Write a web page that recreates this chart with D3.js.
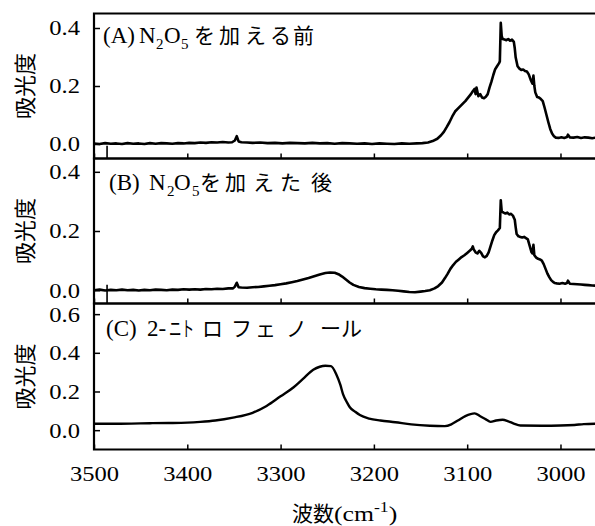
<!doctype html>
<html lang="ja">
<head>
  <meta charset="utf-8">
  <title>N2O5 spectra</title>
  <script src="https://cdnjs.cloudflare.com/ajax/libs/d3/7.8.5/d3.min.js"></script>
  <style>
    body { margin: 0; background: #fff; }
    .lat, .tick text { font-family: "Liberation Serif", "Times New Roman", serif; fill: #000; }
    .jp { font-family: "Noto Sans CJK JP", sans-serif; fill: #000; }
  </style>
</head>
<body>
<svg width="595" height="526" id="svg"></svg>

<script>

// --- data ---
var xDomain = [3500, 2963];
var xTicks = [3500, 3400, 3300, 3200, 3100, 3000];
var yTicksAB = [0.0, 0.2, 0.4];
var yTicksC = [0.0, 0.2, 0.4, 0.6];
var yDomainA = [-0.05, 0.45];
var yDomainB = [-0.045, 0.445];
var yDomainC = [-0.1, 0.655];

// (A) before N2O5
var wnA  = [3500,3494,3488,3482,3476,3470,3464,3458,3452,3446,3440,3434,3428,3422,3416,3410,3404,3398,3392,3386,3380,3374,3368,3362,3356,3352,3349,3347,3345,3342,3336,3330,3322,3314,3306,3298,3290,3282,3274,3266,3258,3250,3242,3234,3226,3218,3210,3202,3194,3186,3178,3170,3162,3154,3148,3142,3137,3132,3128,3125,3122,3119,3116,3113,3110,3106,3102,3099,3096,3094,3092,3091,3090,3088,3086,3084,3082,3080,3078,3076,3074,3072,3070,3068,3066,3065,3064,3063,3062,3060,3058,3056,3054,3052,3050,3049,3048,3046,3044,3042,3040,3038,3036,3034,3032,3030,3029,3028,3027,3025,3023,3021,3019,3017,3015,3013,3011,3009,3007,3005,3002,2999,2996,2993,2992,2990,2986,2982,2978,2974,2970,2966,2962];
var absA = [0.002,0.000,0.003,0.001,0.002,0.000,0.003,0.001,0.002,0.000,0.003,0.001,0.003,0.002,0.001,0.003,0.002,0.004,0.003,0.005,0.004,0.006,0.005,0.007,0.005,0.006,0.012,0.027,0.009,0.006,0.005,0.004,0.005,0.003,0.004,0.002,0.004,0.003,0.002,0.004,0.002,0.003,0.001,0.003,0.002,0.001,0.002,0.000,0.002,0.001,0.000,0.002,0.001,0.002,0.003,0.005,0.010,0.018,0.030,0.042,0.058,0.075,0.095,0.112,0.122,0.135,0.148,0.160,0.172,0.182,0.190,0.172,0.195,0.165,0.172,0.160,0.158,0.163,0.172,0.195,0.215,0.238,0.258,0.268,0.278,0.285,0.418,0.372,0.362,0.360,0.358,0.362,0.356,0.360,0.352,0.330,0.298,0.268,0.260,0.255,0.257,0.252,0.250,0.240,0.222,0.208,0.236,0.200,0.178,0.162,0.160,0.155,0.148,0.125,0.100,0.075,0.052,0.036,0.027,0.022,0.021,0.023,0.021,0.024,0.032,0.023,0.022,0.024,0.021,0.023,0.022,0.020,0.022];

// (B) after N2O5
var wnB  = [3500,3494,3488,3482,3476,3470,3464,3458,3452,3446,3440,3434,3428,3422,3416,3410,3404,3398,3392,3386,3380,3374,3368,3362,3356,3351,3349,3347,3345,3342,3336,3330,3324,3318,3312,3306,3300,3294,3288,3282,3276,3270,3264,3258,3252,3247,3242,3238,3234,3230,3226,3222,3216,3210,3204,3198,3192,3186,3180,3174,3168,3162,3156,3150,3145,3140,3135,3131,3127,3124,3121,3118,3115,3112,3109,3106,3103,3100,3097,3095,3094,3093,3091,3089,3087,3085,3083,3081,3079,3077,3075,3073,3071,3069,3067,3065,3064,3063,3061,3059,3057,3055,3053,3051,3049,3048,3047,3045,3043,3041,3039,3037,3035,3033,3031,3030,3029,3028,3026,3024,3022,3020,3018,3016,3014,3012,3010,3008,3006,3004,3001,2998,2995,2993,2992,2990,2986,2982,2978,2974,2970,2966,2962];
var absB = [0.000,0.002,-0.001,0.001,0.000,0.002,0.000,0.001,-0.001,0.001,0.000,0.002,0.001,0.000,0.002,0.001,0.003,0.002,0.003,0.002,0.004,0.003,0.005,0.004,0.006,0.006,0.012,0.025,0.010,0.009,0.008,0.010,0.011,0.013,0.015,0.017,0.020,0.023,0.027,0.031,0.036,0.041,0.047,0.053,0.058,0.060,0.059,0.054,0.046,0.036,0.026,0.018,0.011,0.007,0.005,0.003,0.002,0.001,0.000,-0.002,-0.004,-0.006,-0.007,-0.005,-0.003,0.000,0.006,0.014,0.026,0.040,0.055,0.072,0.085,0.096,0.104,0.112,0.118,0.126,0.134,0.140,0.148,0.138,0.128,0.124,0.133,0.126,0.114,0.111,0.116,0.128,0.148,0.168,0.186,0.196,0.202,0.210,0.304,0.266,0.262,0.259,0.262,0.256,0.258,0.252,0.238,0.212,0.190,0.182,0.180,0.178,0.180,0.176,0.172,0.150,0.128,0.124,0.153,0.118,0.110,0.106,0.104,0.100,0.088,0.072,0.056,0.044,0.034,0.028,0.024,0.023,0.022,0.024,0.022,0.024,0.032,0.022,0.021,0.020,0.019,0.018,0.017,0.016,0.015];

// (C) 2-nitrophenol
var wnC  = [3500,3480,3460,3440,3420,3400,3386,3370,3351,3330,3315,3300,3286,3276,3265,3258,3252,3246,3240,3236,3233,3229,3226,3220,3215,3205,3193,3177,3160,3140,3124,3117,3110,3102,3092,3086,3080,3075,3069,3062,3056,3050,3043,3020,3000,2985,2975,2962];
var absC = [0.033,0.033,0.034,0.036,0.037,0.039,0.043,0.050,0.065,0.090,0.125,0.175,0.222,0.265,0.312,0.328,0.333,0.331,0.285,0.235,0.185,0.145,0.120,0.095,0.078,0.060,0.050,0.041,0.030,0.023,0.021,0.030,0.050,0.073,0.087,0.072,0.056,0.043,0.050,0.054,0.046,0.034,0.024,0.023,0.024,0.027,0.031,0.033];

// vertical marker left in panels A and B
var markWn = 3486;
var markTop = [-0.006, 0.018];

var yTitle = '吸光度';

// --- drawing ---
var svg = d3.select('#svg');
var left = 94, right = 595;
var stretch = 'scale(1.17,1)';

var x = d3.scaleLinear().domain(xDomain).range([left, right]);

var panels = [
  {wn: wnA, abs: absA, top: 13.5, bottom: 158.5, domain: yDomainA, ticks: yTicksAB, curve: d3.curveLinear, lw: 2.6, mark: markTop[0]},
  {wn: wnB, abs: absB, top: 158.5, bottom: 303.5, domain: yDomainB, ticks: yTicksAB, curve: d3.curveLinear, lw: 2.6, mark: markTop[1]},
  {wn: wnC, abs: absC, top: 303.5, bottom: 449.5, domain: yDomainC, ticks: yTicksC, curve: d3.curveMonotoneX, lw: 2.4, mark: null}
];

panels.forEach(function(p, i) {
  var y = d3.scaleLinear().domain(p.domain).range([p.bottom, p.top]);

  // data line
  var line = d3.line()
    .x(function(d) { return x(d[0]); })
    .y(function(d) { return y(d[1]); })
    .curve(p.curve);

  svg.append('path')
    .datum(d3.zip(p.wn, p.abs))
    .attr('d', line)
    .attr('fill', 'none')
    .attr('stroke', '#000')
    .attr('stroke-width', p.lw)
    .attr('stroke-linejoin', 'round');

  if (p.mark !== null) {
    svg.append('line')
      .attr('x1', x(markWn)).attr('x2', x(markWn))
      .attr('y1', p.bottom).attr('y2', y(p.mark))
      .attr('stroke', '#000').attr('stroke-width', 1.6);
  }

  // y axis
  var ya = svg.append('g')
    .attr('transform', 'translate(' + left + ',0)')
    .call(d3.axisLeft(y).tickValues(p.ticks).tickSize(-6).tickSizeOuter(0)
      .tickPadding(12).tickFormat(d3.format('.1f')));
  ya.select('.domain').remove();
  ya.selectAll('.tick line').attr('stroke-width', 1.5);
  ya.selectAll('.tick text').attr('font-size', 21).attr('transform', stretch).attr('dy', '0.33em');

  // x axis
  var xa = svg.append('g')
    .attr('transform', 'translate(0,' + p.bottom + ')')
    .call(d3.axisBottom(x).tickValues(xTicks).tickSize(-5).tickSizeOuter(0)
      .tickPadding(17).tickFormat(i == 2 ? d3.format('d') : function() { return ''; }));
  xa.select('.domain').remove();
  xa.selectAll('.tick line').attr('stroke-width', 1.5);
  xa.selectAll('.tick text').attr('font-size', 21).attr('transform', stretch);

  // frame (right side runs off the picture)
  svg.append('path')
    .attr('d', 'M' + (right + 5) + ',' + p.top + 'H' + left + 'V' + p.bottom + 'H' + (right + 5))
    .attr('fill', 'none')
    .attr('stroke', '#000')
    .attr('stroke-width', 2.2);

  // y title
  svg.append('text')
    .attr('class', 'jp')
    .attr('transform', 'translate(23,' + ((p.top + p.bottom) / 2) + ') rotate(-90)')
    .attr('text-anchor', 'middle')
    .attr('dominant-baseline', 'central')
    .attr('font-size', 22)
    .text(yTitle);
});

// panel labels: pieces of text placed where they sit in the picture
function putLabel(parts, base) {
  parts.forEach(function(d) {
    var y0 = d[2] == 'sub' ? base + 6 : base;
    var t = svg.append('text')
      .attr('class', d[2] == 'jp' ? 'jp' : 'lat')
      .attr('transform', 'translate(' + d[1] + ',' + y0 + ')' + (d[3] ? ' scale(' + d[3] + ',1)' : ''))
      .attr('font-size', d[2] == 'jp' ? 21 : (d[2] == 'sub' ? 15 : 23))
      .text(d[0]);
  });
}

putLabel([['(A)', 103], ['N', 139], ['2', 156, 'sub'], ['O', 164], ['5', 181, 'sub'],
  ['を', 194, 'jp'], ['加', 219, 'jp'], ['え', 245, 'jp'], ['る', 270, 'jp'], ['前', 293, 'jp']], 43);

putLabel([['(B)', 109], ['N', 149], ['2', 167, 'sub'], ['O', 174], ['5', 192, 'sub'],
  ['を', 200, 'jp'], ['加', 225, 'jp'], ['え', 253, 'jp'], ['た', 280, 'jp'], ['後', 311, 'jp']], 189.5);

putLabel([['(C)', 106], ['2-', 147], ['ニト', 169, 'jp', 0.6], ['ロ', 202, 'jp'], ['フ', 231, 'jp'],
  ['ェ', 255, 'jp'], ['ノ', 286, 'jp'], ['ー', 320, 'jp'], ['ル', 341, 'jp']], 336);

// x title
svg.append('text')
  .attr('class', 'jp')
  .attr('x', 292).attr('y', 521)
  .attr('font-size', 21)
  .text('波数');

var xt = svg.append('text')
  .attr('class', 'lat')
  .attr('transform', 'translate(334,521) ' + stretch)
  .attr('font-size', 22);
xt.append('tspan').text('(cm');
xt.append('tspan').attr('font-size', 15).attr('dy', -9).text('-1');
xt.append('tspan').attr('dy', 9).text(')');

</script>
</body>
</html>
